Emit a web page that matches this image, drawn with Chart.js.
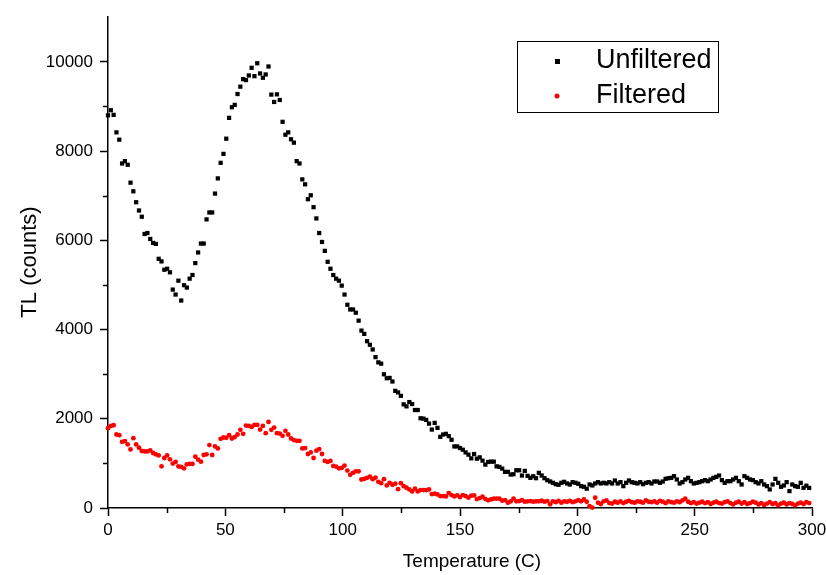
<!DOCTYPE html>
<html>
<head>
<meta charset="utf-8">
<script src="https://cdn.jsdelivr.net/npm/chart.js@4.4.1/dist/chart.umd.min.js"></script>
<style>
  body { margin: 0; background: #fff; }
  #wrap { width: 826px; height: 575px; }
</style>
</head>
<body>
<div id="wrap"><canvas id="tlChart" width="826" height="575"></canvas></div>
<script>
// temperature of each reading (C)
const temps = [
    0, 1.2, 2.4, 3.6, 4.8, 6, 7.2, 8.4, 9.6, 10.8,
    12, 13.2, 14.4, 15.6, 16.8, 18, 19.2, 20.4, 21.6, 22.8,
    24, 25.2, 26.4, 27.6, 28.8, 30, 31.2, 32.4, 33.6, 34.8,
    36, 37.2, 38.4, 39.6, 40.8, 42, 43.2, 44.4, 45.6, 46.8,
    48, 49.2, 50.4, 51.6, 52.8, 54, 55.2, 56.4, 57.6, 58.8,
    60, 61.2, 62.4, 63.6, 64.8, 66, 67.2, 68.4, 69.6, 70.8,
    72, 73.2, 74.4, 75.6, 76.8, 78, 79.2, 80.4, 81.6, 82.8,
    84, 85.2, 86.4, 87.6, 88.8, 90, 91.2, 92.4, 93.6, 94.8,
    96, 97.2, 98.4, 99.6, 100.8, 102, 103.2, 104.4, 105.6, 106.8,
    108, 109.2, 110.4, 111.6, 112.8, 114, 115.2, 116.4, 117.6, 118.8,
    120, 121.2, 122.4, 123.6, 124.8, 126, 127.2, 128.4, 129.6, 130.8,
    132, 133.2, 134.4, 135.6, 136.8, 138, 139.2, 140.4, 141.6, 142.8,
    144, 145.2, 146.4, 147.6, 148.8, 150, 151.2, 152.4, 153.6, 154.8,
    156, 157.2, 158.4, 159.6, 160.8, 162, 163.2, 164.4, 165.6, 166.8,
    168, 169.2, 170.4, 171.6, 172.8, 174, 175.2, 176.4, 177.6, 178.8,
    180, 181.2, 182.4, 183.6, 184.8, 186, 187.2, 188.4, 189.6, 190.8,
    192, 193.2, 194.4, 195.6, 196.8, 198, 199.2, 200.4, 201.6, 202.8,
    204, 205.2, 206.4, 207.6, 208.8, 210, 211.2, 212.4, 213.6, 214.8,
    216, 217.2, 218.4, 219.6, 220.8, 222, 223.2, 224.4, 225.6, 226.8,
    228, 229.2, 230.4, 231.6, 232.8, 234, 235.2, 236.4, 237.6, 238.8,
    240, 241.2, 242.4, 243.6, 244.8, 246, 247.2, 248.4, 249.6, 250.8,
    252, 253.2, 254.4, 255.6, 256.8, 258, 259.2, 260.4, 261.6, 262.8,
    264, 265.2, 266.4, 267.6, 268.8, 270, 271.2, 272.4, 273.6, 274.8,
    276, 277.2, 278.4, 279.6, 280.8, 282, 283.2, 284.4, 285.6, 286.8,
    288, 289.2, 290.4, 291.6, 292.8, 294, 295.2, 296.4, 297.6, 298.8
];

// TL counts, no filter
const unfiltered = [
    8800, 8915, 8811, 8419, 8255, 7721, 7774, 7692, 7291, 7098,
    6853, 6668, 6528, 6141, 6163, 6030, 5941, 5919, 5585, 5527,
    5340, 5362, 5282, 4895, 4784, 5095, 4650, 4993, 4940, 5140,
    5222, 5489, 5727, 5927, 5927, 6468, 6624, 6624, 7047, 7387,
    7736, 7937, 8277, 8744, 8982, 9034, 9278, 9443, 9612, 9590,
    9694, 9866, 9679, 9968, 9739, 9643, 9717, 9895, 9265, 9100,
    9271, 9145, 8655, 8366, 8419, 8264, 8188, 7774, 7721, 7365,
    7254, 6920, 7009, 6742, 6490, 6163, 5963, 5763, 5518, 5362,
    5222, 5140, 5095, 4984, 4784, 4555, 4450, 4450, 4377, 4199,
    3976, 3903, 3738, 3658, 3553, 3382, 3264, 3235, 2997, 2908,
    2915, 2835, 2626, 2590, 2514, 2323, 2278, 2374, 2330, 2196,
    2196, 2011, 2003, 1974, 1891, 1758, 1907, 1796, 1595, 1647,
    1662, 1611, 1529, 1380, 1380, 1344, 1306, 1246, 1195, 1113,
    1210, 1106, 1135, 1061, 972, 1032, 1039, 1039, 934, 921,
    883, 810, 810, 750, 757, 846, 846, 728, 832, 721,
    676, 712, 668, 788, 728, 668, 623, 594, 565, 534,
    521, 565, 587, 550, 527, 579, 565, 543, 490, 476,
    432, 527, 505, 550, 579, 550, 565, 550, 579, 550,
    616, 550, 579, 490, 565, 616, 579, 565, 550, 579,
    534, 565, 579, 550, 594, 594, 565, 594, 654, 668,
    676, 713, 639, 550, 579, 639, 676, 601, 550, 564,
    579, 601, 624, 601, 639, 676, 698, 728, 624, 564,
    601, 601, 639, 676, 601, 527, 713, 676, 639, 624,
    579, 550, 601, 527, 490, 416, 527, 653, 564, 475,
    505, 579, 379, 527, 490, 475, 564, 453, 500, 450
];

// TL counts, with filter
const filtered = [
    1789, 1840, 1855, 1647, 1633, 1484, 1499, 1424, 1313, 1566,
    1424, 1351, 1277, 1268, 1268, 1291, 1233, 1202, 1179, 934,
    1121, 1179, 1090, 995, 1032, 934, 921, 890, 979, 988,
    988, 1150, 1084, 1039, 1188, 1202, 1411, 1188, 1380, 1335,
    1551, 1580, 1573, 1633, 1558, 1589, 1647, 1751, 1662, 1847,
    1840, 1818, 1862, 1862, 1758, 1840, 1678, 1929, 1751, 1802,
    1678, 1669, 1618, 1729, 1647, 1558, 1522, 1506, 1506, 1335,
    1343, 1210, 1246, 1121, 1284, 1321, 1210, 1054, 1032, 1054,
    943, 928, 890, 898, 950, 839, 743, 788, 823, 823,
    639, 654, 676, 705, 645, 683, 587, 556, 645, 505,
    565, 521, 543, 423, 556, 489, 454, 416, 372, 432,
    372, 401, 401, 401, 416, 312, 320, 305, 267, 267,
    260, 334, 289, 260, 283, 245, 289, 267, 231, 276,
    283, 200, 222, 254, 200, 171, 193, 209, 209, 209,
    165, 178, 120, 149, 209, 149, 156, 178, 142, 149,
    156, 142, 149, 149, 163, 142, 156, 82, 150, 130,
    160, 120, 150, 140, 160, 130, 150, 175, 150, 190,
    140, 40, 10, 230, 120, 90, 150, 170, 110, 100,
    140, 120, 150, 110, 140, 160, 130, 120, 150, 140,
    120, 170, 140, 130, 150, 120, 160, 140, 110, 150,
    130, 120, 150, 130, 170, 210, 140, 110, 130, 100,
    120, 140, 110, 130, 90, 120, 140, 110, 100, 130,
    150, 110, 80, 120, 140, 100, 130, 90, 110, 140,
    120, 80, 110, 70, 100, 130, 90, 110, 60, 100,
    120, 80, 110, 90, 60, 100, 120, 90, 130, 110
];

const seriesNames = ["Unfiltered", "Filtered"];
const xTitle = "Temperature (C)";
const yTitle = "TL (counts)";
const FONT = "'Liberation Sans', Arial, sans-serif";

function toPoints(values) {
    return values.map((v, i) => ({ x: temps[i], y: v }));
}

// short minor ticks (odd thousands on y, 25-steps on x) + axis titles
const axisExtras = {
    id: "axisExtras",
    afterDraw(chart) {
        const ctx = chart.ctx;
        const xs = chart.scales.x;
        const ys = chart.scales.y;
        ctx.save();
        ctx.strokeStyle = "#000";
        ctx.lineWidth = 1.5;
        ctx.beginPath();
        for (let v = 1000; v <= 9000; v += 2000) {
            const py = Math.round(ys.getPixelForValue(v)) + 0.5;
            ctx.moveTo(ys.right, py);
            ctx.lineTo(ys.right - 5, py);
        }
        for (let v = 25; v < 300; v += 50) {
            const px = Math.round(xs.getPixelForValue(v)) + 0.5;
            ctx.moveTo(px, xs.top);
            ctx.lineTo(px, xs.top + 5);
        }
        ctx.stroke();

        ctx.fillStyle = "#000";
        ctx.textAlign = "center";
        ctx.textBaseline = "middle";
        ctx.font = "19px " + FONT;
        ctx.fillText(xTitle, 472, 562);
        ctx.translate(30, 262);
        ctx.rotate(-Math.PI / 2);
        ctx.font = "22px " + FONT;
        ctx.fillText(yTitle, 0, 0);
        ctx.restore();
    }
};

// boxed legend inside the plot, top right
const boxLegend = {
    id: "boxLegend",
    afterDraw(chart) {
        const ctx = chart.ctx;
        ctx.save();
        ctx.fillStyle = "#fff";
        ctx.fillRect(517.5, 41.5, 201, 71);
        ctx.strokeStyle = "#000";
        ctx.lineWidth = 1;
        ctx.strokeRect(517.5, 41.5, 201, 71);

        ctx.fillStyle = "#000";
        ctx.fillRect(555, 59, 5, 5);
        ctx.fillStyle = "#ff0000";
        ctx.beginPath();
        ctx.arc(557, 96, 2.5, 0, Math.PI * 2);
        ctx.fill();

        ctx.fillStyle = "#000";
        ctx.font = "27px " + FONT;
        ctx.textBaseline = "middle";
        ctx.fillText(seriesNames[0], 596, 61);
        ctx.fillText(seriesNames[1], 596, 96);
        ctx.restore();
    }
};

const ctx = document.getElementById("tlChart").getContext("2d");

new Chart(ctx, {
    type: "scatter",
    data: {
        datasets: [
            {
                label: seriesNames[0],
                data: toPoints(unfiltered),
                pointStyle: "rect",
                pointRadius: 3,
                pointBorderWidth: 0,
                pointBackgroundColor: "#000",
                clip: false
            },
            {
                label: seriesNames[1],
                data: toPoints(filtered),
                pointStyle: "circle",
                pointRadius: 2.4,
                pointBorderWidth: 0,
                pointBackgroundColor: "#ff0000",
                clip: false
            }
        ]
    },
    options: {
        responsive: false,
        animation: false,
        devicePixelRatio: 1,
        layout: { padding: { left: 0, top: 14, right: 0, bottom: 0 } },
        plugins: {
            legend: { display: false },
            tooltip: { enabled: false }
        },
        scales: {
            x: {
                type: "linear",
                min: 0,
                max: 300,
                afterFit: scale => {
                    scale.height = 67;
                    scale.paddingLeft = 0;
                    scale.paddingRight = 14;
                },
                border: { color: "#000", width: 1.5 },
                grid: {
                    drawOnChartArea: false,
                    tickLength: 8,
                    tickWidth: 1.5,
                    tickColor: c => (c.tick && c.tick.value % 50 === 0 ? "#000" : "rgba(0,0,0,0)")
                },
                ticks: {
                    stepSize: 25,
                    padding: 4,
                    color: "#000",
                    maxRotation: 0,
                    autoSkip: false,
                    font: { family: FONT, size: 17 },
                    callback: v => (v % 50 === 0 ? String(v) : "")
                }
            },
            y: {
                type: "linear",
                min: 0,
                max: 11000,
                afterFit: scale => { scale.width = 108; },
                border: { color: "#000", width: 1.5 },
                grid: {
                    drawOnChartArea: false,
                    tickLength: 8,
                    tickWidth: 1.5,
                    tickColor: c => (c.tick && c.tick.value % 2000 === 0 ? "#000" : "rgba(0,0,0,0)")
                },
                ticks: {
                    stepSize: 1000,
                    padding: 7,
                    color: "#000",
                    autoSkip: false,
                    font: { family: FONT, size: 17 },
                    callback: v => (v % 2000 === 0 ? String(v) : "")
                }
            }
        }
    },
    plugins: [axisExtras, boxLegend]
});
</script>
</body>
</html>
